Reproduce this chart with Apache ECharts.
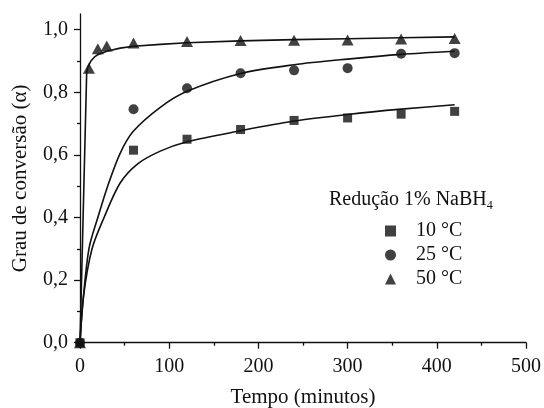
<!DOCTYPE html>
<html>
<head>
<meta charset="utf-8">
<script src="https://cdn.jsdelivr.net/npm/echarts@6/dist/echarts.min.js"></script>
<style>
  html, body { margin: 0; padding: 0; background: #fff; }
  #chart { width: 544px; height: 408px; }
</style>
</head>
<body>
<div id="chart"></div>
<script>
// measured points (minutes, alpha)
var times = [0, 60, 120, 180, 240, 300, 360, 420];
var alpha10 = [0, 0.615, 0.650, 0.681, 0.710, 0.718, 0.730, 0.739];
var alpha25 = [0, 0.746, 0.813, 0.861, 0.870, 0.877, 0.923, 0.925];
var times50 = [0, 10, 20, 30, 60, 120, 180, 240, 300, 360, 420];
var alpha50 = [0, 0.877, 0.939, 0.948, 0.957, 0.962, 0.965, 0.966, 0.967, 0.970, 0.972];

// fitted curves
var fit10 = [[0, 0], [4, 0.15], [13.5, 0.30], [27, 0.40], [45, 0.51], [65, 0.572], [90, 0.612], [120, 0.642],
  [180, 0.677], [240, 0.708], [300, 0.729], [360, 0.746], [420, 0.760]];
var fit25 = [[0, 0], [3, 0.12], [10, 0.30], [20, 0.40], [31, 0.50], [45, 0.605], [60, 0.676], [90, 0.752],
  [120, 0.803], [180, 0.860], [240, 0.888], [300, 0.906], [360, 0.921], [420, 0.931]];
var fit50 = [[0, 0], [7.5, 0.865], [9, 0.882], [12, 0.899], [16, 0.912], [20, 0.92], [30, 0.931], [45, 0.941],
  [60, 0.947], [90, 0.953], [120, 0.958], [180, 0.964], [240, 0.968], [300, 0.971], [360, 0.974], [420, 0.977]];

var legendNames = ['10 °C', '25 °C', '50 °C'];

function zip(xs, ys) {
    var out = [];
    for (var i = 0; i < xs.length; i++) out.push([xs[i], ys[i]]);
    return out;
}

var font = 'Liberation Serif';
var ink = '#111';

var myChart = echarts.init(document.getElementById('chart'));

function curve(data, smooth) {
    return {
        type: 'line', data: data, showSymbol: false, symbol: 'none', silent: true,
        smooth: smooth,
        lineStyle: {color: ink, width: 1.6}, z: 2, clip: false
    };
}

myChart.setOption({
    animation: false,
    title: {
        text: '{t|Redução 1% NaBH}{s|4}',
        left: 329, top: 187, padding: 0,
        textStyle: {
            rich: {
                t: {fontFamily: font, fontSize: 20, fontWeight: 'normal', color: ink},
                s: {fontFamily: font, fontSize: 12, fontWeight: 'normal', color: ink, padding: [13, 0, 0, 0]}
            }
        }
    },
    legend: {
        data: legendNames,
        orient: 'vertical',
        left: 380, top: 216,
        itemWidth: 11, itemHeight: 11, itemGap: 4,
        textStyle: {fontFamily: font, fontSize: 20, color: ink, padding: [0, 0, 0, 15]}
    },
    grid: {left: 80, right: 18, top: 14, bottom: 65.3, containLabel: false, outerBoundsMode: 'none'},
    xAxis: {
        type: 'value', min: 0, max: 500, interval: 100,
        name: 'Tempo (minutos)', nameLocation: 'middle', nameGap: 44,
        nameTextStyle: {fontFamily: font, fontSize: 21, color: ink},
        axisLine: {lineStyle: {color: ink, width: 1.3}},
        axisTick: {length: 6, lineStyle: {color: ink, width: 1.3}},
        minorTick: {show: true, splitNumber: 2, length: 3, lineStyle: {color: ink, width: 1.3}},
        splitLine: {show: false},
        axisLabel: {fontFamily: font, fontSize: 20, color: ink, margin: 14}
    },
    yAxis: {
        type: 'value', min: 0, max: 1.05, interval: 0.2,
        name: 'Grau de conversão (α)', nameLocation: 'middle', nameGap: 49,
        nameTextStyle: {fontFamily: font, fontSize: 21, color: ink},
        axisLine: {show: true, lineStyle: {color: ink, width: 1.3}},
        axisTick: {show: true, length: 6, lineStyle: {color: ink, width: 1.3},
            customValues: [0, 0.2, 0.4, 0.6, 0.8, 1.0]},
        minorTick: {show: true, splitNumber: 2, length: 3, lineStyle: {color: ink, width: 1.3}},
        splitLine: {show: false},
        axisLabel: {
            fontFamily: font, fontSize: 20, color: ink, margin: 12,
            customValues: [0, 0.2, 0.4, 0.6, 0.8, 1.0],
            formatter: function (v) { return v.toFixed(1).replace('.', ','); }
        }
    },
    series: [
        curve(fit10, 0.3), curve(fit25, 0.3), curve(fit50, false),
        {
            name: legendNames[0], type: 'scatter', data: zip(times, alpha10),
            symbol: 'rect', symbolSize: 9, itemStyle: {color: ink}, z: 3, clip: false
        },
        {
            name: legendNames[1], type: 'scatter', data: zip(times, alpha25),
            symbol: 'circle', symbolSize: 10, itemStyle: {color: ink}, z: 3, clip: false
        },
        {
            name: legendNames[2], type: 'scatter', data: zip(times50, alpha50),
            symbol: 'triangle', symbolSize: [12, 11], itemStyle: {color: ink}, z: 3, clip: false
        }
    ]
});
</script>
</body>
</html>
